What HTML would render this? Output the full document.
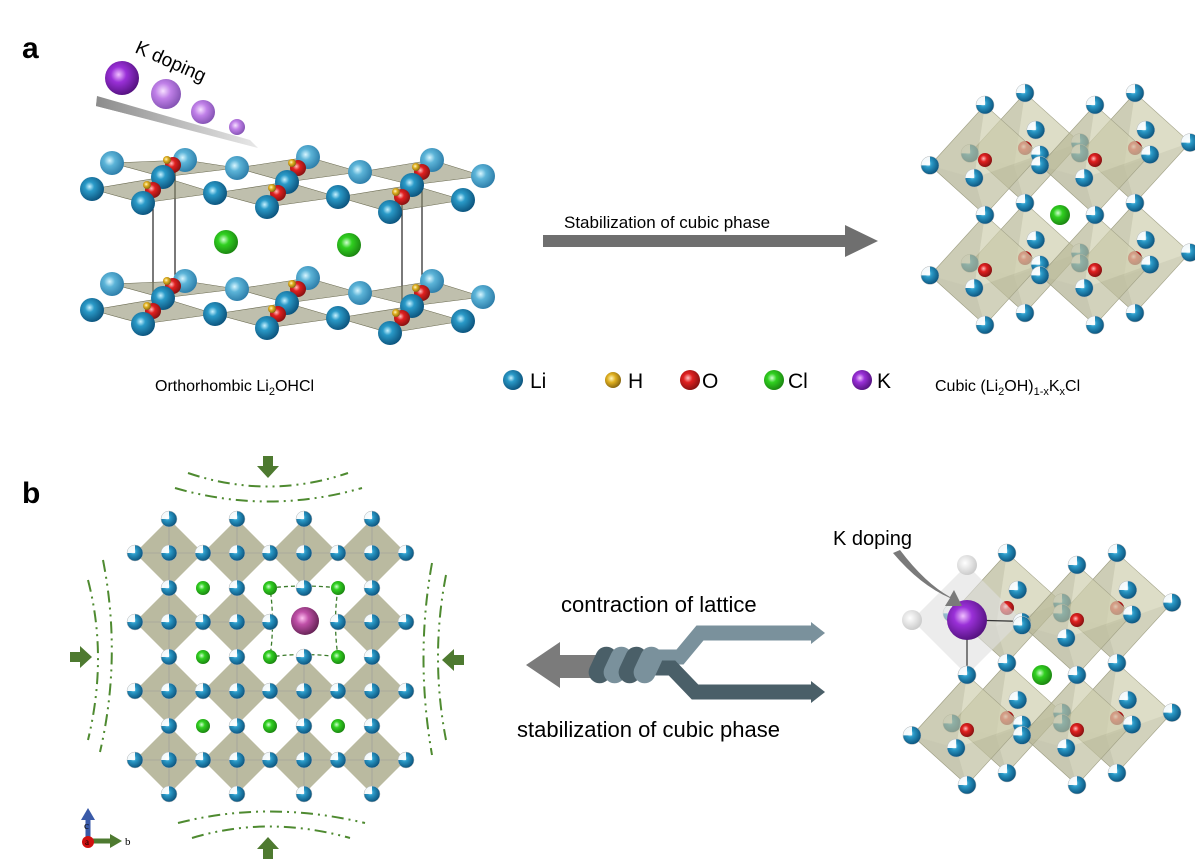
<!DOCTYPE html>
<html><head><meta charset="utf-8"><style>
html,body{margin:0;padding:0;background:#fff;}
svg{display:block;font-family:"Liberation Sans",Arial,sans-serif;}
</style></head><body>
<svg id="s" width="1195" height="859" viewBox="0 0 1195 859" xmlns="http://www.w3.org/2000/svg">
<defs>
<radialGradient id="gLi" cx="0.4" cy="0.4" r="0.65"><stop offset="0" stop-color="#c8f2ff"/><stop offset="0.3" stop-color="#2a9ac8"/><stop offset="1" stop-color="#0a4f78"/></radialGradient>
<radialGradient id="gLi2" cx="0.4" cy="0.4" r="0.65"><stop offset="0" stop-color="#d8f6ff"/><stop offset="0.35" stop-color="#5cb4d8"/><stop offset="1" stop-color="#2a7aa6"/></radialGradient>
<radialGradient id="gO" cx="0.4" cy="0.4" r="0.65"><stop offset="0" stop-color="#ffc0c0"/><stop offset="0.35" stop-color="#e02020"/><stop offset="1" stop-color="#801010"/></radialGradient>
<radialGradient id="gH" cx="0.4" cy="0.4" r="0.65"><stop offset="0" stop-color="#fff6c0"/><stop offset="0.4" stop-color="#e0b020"/><stop offset="1" stop-color="#806010"/></radialGradient>
<radialGradient id="gCl" cx="0.4" cy="0.4" r="0.65"><stop offset="0" stop-color="#d0ffd0"/><stop offset="0.35" stop-color="#30d020"/><stop offset="1" stop-color="#1a8010"/></radialGradient>
<radialGradient id="gK" cx="0.4" cy="0.4" r="0.65"><stop offset="0" stop-color="#f0c0ff"/><stop offset="0.35" stop-color="#9a30d8"/><stop offset="1" stop-color="#50107a"/></radialGradient>
<radialGradient id="gK2" cx="0.4" cy="0.4" r="0.65"><stop offset="0" stop-color="#f6e0ff"/><stop offset="0.4" stop-color="#c080e8"/><stop offset="1" stop-color="#8050b0"/></radialGradient>
<radialGradient id="gKb" cx="0.4" cy="0.4" r="0.65"><stop offset="0" stop-color="#ffc0f0"/><stop offset="0.35" stop-color="#c050a8"/><stop offset="1" stop-color="#602050"/></radialGradient>
<radialGradient id="gW" cx="0.4" cy="0.4" r="0.65"><stop offset="0" stop-color="#ffffff"/><stop offset="1" stop-color="#c8c8c8"/></radialGradient>
<linearGradient id="gArr" x1="0" x2="1"><stop offset="0" stop-color="#8c8c8c"/><stop offset="1" stop-color="#e8e8e8"/></linearGradient>
</defs>
<g id="root"></g>

<!-- labels -->
<text x="22" y="58" font-size="30" font-weight="bold">a</text>
<text x="22" y="503" font-size="30" font-weight="bold">b</text>
<text x="134" y="52" font-size="19" transform="rotate(24 134 52)">K doping</text>

<text x="155" y="391" font-size="16">Orthorhombic Li<tspan font-size="11" dy="4">2</tspan><tspan dy="-4">OHCl</tspan></text>
<text x="935" y="391" font-size="16">Cubic (Li<tspan font-size="11" dy="4">2</tspan><tspan dy="-4">OH)</tspan><tspan font-size="11" dy="4">1-x</tspan><tspan dy="-4">K</tspan><tspan font-size="11" dy="4">x</tspan><tspan dy="-4">Cl</tspan></text>

<text x="564" y="228" font-size="17">Stabilization of cubic phase</text>
<polygon points="543,235 845,235 845,225 878,241 845,257 845,247 543,247" fill="#6f6f6f"/>

<g font-size="21">
<text x="530" y="388">Li</text>
<text x="628" y="388">H</text>
<text x="702" y="388">O</text>
<text x="788" y="388">Cl</text>
<text x="877" y="388">K</text>
</g>

<text x="561" y="612" font-size="22">contraction of lattice</text>
<text x="517" y="737" font-size="22">stabilization of cubic phase</text>
<text x="833" y="545" font-size="20">K doping</text>
<path d="M893,553 Q920,585 950,598 L945,606 L962,606 L954,590 L950,597 Q925,583 900,550 Z" fill="#7a7a7a"/>

<!-- center arrow b -->
<polygon points="526,665 560,642 560,655 605,655 605,678 560,678 560,688" fill="#7b7b7b"/>
<path d="M655,657 L680,657 L700,633 L813,633" fill="none" stroke="#7a919c" stroke-width="15"/>
<polygon points="811,622 825,633 811,644" fill="#7a919c"/>
<path d="M650,668 L672,668 L695,692 L813,692" fill="none" stroke="#4a5f68" stroke-width="15"/>
<polygon points="811,681 825,692 811,703" fill="#4a5f68"/>
<g>
<rect x="592" y="646" width="22" height="38" rx="11" fill="#4a5f68" transform="rotate(25 603 665)"/>
<rect x="607" y="646" width="22" height="38" rx="11" fill="#7a919c" transform="rotate(25 618 665)"/>
<rect x="622" y="646" width="22" height="38" rx="11" fill="#4a5f68" transform="rotate(25 633 665)"/>
<rect x="637" y="646" width="22" height="38" rx="11" fill="#7a919c" transform="rotate(25 648 665)"/>
</g>

<!-- axis -->
<line x1="88" y1="840" x2="88" y2="818" stroke="#3a5aa8" stroke-width="5"/>
<polygon points="81,820 95,820 88,808" fill="#3a5aa8"/>
<line x1="88" y1="841" x2="112" y2="841" stroke="#4e7a30" stroke-width="5"/>
<polygon points="110,834 110,848 122,841" fill="#4e7a30"/>
<circle cx="88" cy="842" r="6" fill="#d01010"/>
<text x="84" y="829" font-size="11" font-family="Liberation Serif">c</text>
<text x="125" y="845" font-size="11" font-family="Liberation Serif">b</text>
<text x="85" y="845" font-size="9" font-family="Liberation Serif">a</text>
</svg>
<script>
var NS="http://www.w3.org/2000/svg",R=document.getElementById('root');
function el(t,a){var e=document.createElementNS(NS,t);for(var k in a)e.setAttribute(k,a[k]);R.appendChild(e);return e;}
function sp(x,y,r,g){el('circle',{cx:x,cy:y,r:r,fill:'url(#'+g+')'});}
function liw(x,y,r){ // half white li
 el('circle',{cx:x,cy:y,r:r,fill:'url(#gLi)'});
 el('path',{d:'M'+x+','+y+' L'+x+','+(y-r)+' A'+r+','+r+' 0 0,0 '+(x-r)+','+y+' Z',fill:'#fff',opacity:0.95});
 el('circle',{cx:x,cy:y,r:r,fill:'none',stroke:'#bbb','stroke-width':0.5});
}
function poly(p,f,o,s){el('polygon',{points:p.map(function(q){return q.join(',')}).join(' '),fill:f,'fill-opacity':o,stroke:s||'none','stroke-width':0.6});}

// ===== panel a left =====
// K spheres and arrow
el('polygon',{points:'97,98 258,147 96,106',fill:'url(#gArr)'});
el('polygon',{points:'97,96 250,140 258,148 96,106',fill:'url(#gArr)'});
sp(122,78,17,'gK');sp(166,94,15,'gK2');sp(203,112,12,'gK2');sp(237,127,8,'gK2');
function layer(dy){
 var back=[[112,163],[185,160],[237,168],[308,157],[360,172],[432,160],[483,176]];
 var mid=[[163,177],[287,182],[412,185]];
 var front=[[92,189],[143,203],[215,193],[267,207],[338,197],[390,212],[463,200]];
 // planes
 var pl=[[[112,163],[185,160],[237,168],[163,177]],[[237,168],[308,157],[360,172],[287,182]],[[360,172],[432,160],[483,176],[412,185]],
 [[92,189],[163,177],[215,193],[143,203]],[[215,193],[287,182],[338,197],[267,207]],[[338,197],[412,185],[463,200],[390,212]]];
 pl.forEach(function(p){poly(p.map(function(q){return [q[0],q[1]+dy]}),'#8a8a6a',0.55,'#6a6a50');});
 back.forEach(function(q){sp(q[0],q[1]+dy,12,'gLi2');});
 [[173,165],[298,168],[422,172]].forEach(function(q){sp(q[0],q[1]+dy,8,'gO');sp(q[0]-6,q[1]-5+dy,4,'gH');});
 mid.forEach(function(q){sp(q[0],q[1]+dy,12,'gLi');});
 [[153,190],[278,193],[402,197]].forEach(function(q){sp(q[0],q[1]+dy,8,'gO');sp(q[0]-6,q[1]-5+dy,4,'gH');});
 front.forEach(function(q){sp(q[0],q[1]+dy,12,'gLi');});
}
// box lines
[[153,193,153,312],[402,197,402,316],[175,166,175,285],[422,172,422,290]].forEach(function(l){el('line',{x1:l[0],y1:l[1],x2:l[2],y2:l[3],stroke:'#222','stroke-width':1.2});});
layer(0);
sp(226,242,12,'gCl');sp(349,245,12,'gCl');
layer(121);

// legend spheres
sp(513,380,10,'gLi');sp(613,380,8,'gH');sp(690,380,10,'gO');sp(774,380,10,'gCl');sp(862,380,10,'gK');

// ===== cubic clusters =====
function octa(cx,cy,h,w,d){ // returns vertices
 var T=[cx,cy-h],B=[cx,cy+h],L=[cx-w,cy+d*0.3],Rr=[cx+w,cy-d*0.3],F=[cx-d*0.6,cy+d],K=[cx+d*0.6,cy-d];
 poly([T,L,B,Rr],'#c8c8a8',0.55,'#9a9a80');
 poly([T,L,F],'#a8a888',0.35);poly([T,F,Rr],'#d8d8b8',0.35);poly([B,L,F],'#9a9a7a',0.35);poly([B,F,Rr],'#b8b898',0.35);
 return {T:T,B:B,L:L,R:Rr,F:F,K:K};
}
function cluster(ox,oy,s,withK){
 var w=55*s,h=55*s,d=18*s;
 var back=[[ox+40*s,oy-12*s],[ox+150*s,oy-12*s],[ox+40*s,oy+98*s],[ox+150*s,oy+98*s]];
 var front=[[ox,oy],[ox+110*s,oy],[ox,oy+110*s],[ox+110*s,oy+110*s]];
 back.forEach(function(c){var v=octa(c[0],c[1],h,w,d);sp(c[0],c[1],7*s,'gO');[v.T,v.B,v.L,v.R,v.K].forEach(function(q){liw(q[0],q[1],9*s);});});
 sp(ox+75*s,oy+55*s,10*s,'gCl');
 front.forEach(function(c,i){
  if(withK&&i==0){
   poly([[c[0],c[1]-h],[c[0]-w,c[1]],[c[0],c[1]+h],[c[0]+w,c[1]]],'#e0e0e0',0.6);
   [[c[0],c[1]-h],[c[0]-w,c[1]]].forEach(function(q){sp(q[0],q[1],10*s,'gW');});
   el('line',{x1:c[0],y1:c[1],x2:c[0]+w,y2:c[1]+d*0.3-4,stroke:'#333','stroke-width':1.2});
   el('line',{x1:c[0],y1:c[1],x2:c[0],y2:c[1]+h,stroke:'#333','stroke-width':1.2});
   liw(c[0]+w,c[1]+2,9*s);liw(c[0],c[1]+h,9*s);
   sp(c[0],c[1],20*s,'gK');
   return;}
  var v=octa(c[0],c[1],h,w,d);sp(c[0],c[1],7*s,'gO');
  [v.T,v.B,v.L,v.R,v.F].forEach(function(q){liw(q[0],q[1],9*s);});
 });
}
cluster(985,160,1.0,false);
cluster(967,620,1.0,true);

// ===== panel b left =====
var cx=[169,237,304,372],cy=[553,622,691,760],hs=34;
// missing diamond at row1 col2
for(var r=0;r<4;r++)for(var c=0;c<4;c++){
 if(r==1&&c==2)continue;
 var x=cx[c],y=cy[r];
 poly([[x,y-hs],[x+hs,y],[x,y+hs],[x-hs,y]],'#8c8c60',0.6);
 el('line',{x1:x-hs,y1:y,x2:x+hs,y2:y,stroke:'#999','stroke-width':0.6});
 el('line',{x1:x,y1:y-hs,x2:x,y2:y+hs,stroke:'#999','stroke-width':0.6});
}
// dashed K box
el('path',{d:'M270,588 Q304,584 338,588 Q333,622 338,657 Q304,652 270,657 Q275,622 270,588 Z',fill:'none',stroke:'#3a7a2a','stroke-width':1.3,'stroke-dasharray':'4,3'});
// Li sites
for(var r=0;r<4;r++){for(var c=0;c<4;c++){var x=cx[c],y=cy[r];
 liw(x,y-hs,8);liw(x,y,8);liw(x-hs,y,8);if(c==3)liw(x+hs,y,8);if(r==3)liw(x,y+hs,8);}}
// Cl
[588,657,726].forEach(function(y,ri){[203,270,338].forEach(function(x,ci){sp(x,y,7,'gCl');});});
sp(305,621,14,'gKb');
// dash-dot curves
var dd={fill:'none',stroke:'#4e8a30','stroke-width':2,'stroke-dasharray':'12,5,2,5,2,5'};
function pth(d){var o={};for(var k in dd)o[k]=dd[k];o.d=d;el('path',o);}
pth('M188,473 Q268,500 348,473');pth('M175,488 Q268,515 362,488');
pth('M178,823 Q268,800 365,823');pth('M192,838 Q268,815 350,838');
pth('M103,560 Q122,657 100,752');pth('M88,580 Q108,657 88,740');
pth('M432,563 Q415,657 432,755');pth('M446,575 Q430,657 446,740');
function garrow(x,y,rot){var g=document.createElementNS(NS,'polygon');g.setAttribute('points','-5,-12 5,-12 5,-2 11,-2 0,10 -11,-2 -5,-2');g.setAttribute('fill','#4e7a30');g.setAttribute('transform','translate('+x+','+y+') rotate('+rot+')');R.appendChild(g);}
garrow(268,468,0);garrow(268,847,180);garrow(82,657,-90);garrow(452,660,90);
</script>
</body></html>
